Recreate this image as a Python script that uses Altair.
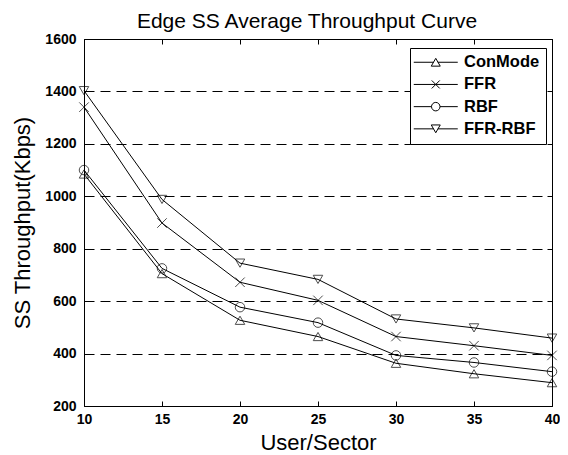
import altair as alt
import pandas as pd

users = [10, 15, 20, 25, 30, 35, 40]
series_names = ["ConMode", "FFR", "RBF", "FFR-RBF"]
conmode = [1085, 705, 527, 465, 363, 323, 289]
ffr = [1340, 898, 672, 603, 465, 430, 393]
rbf = [1100, 725, 577, 518, 393, 366, 331]
ffr_rbf = [1403, 988, 745, 683, 532, 498, 459]

x_ticks = [10, 15, 20, 25, 30, 35, 40]
y_ticks = [200, 400, 600, 800, 1000, 1200, 1400, 1600]

rows = []
for name, vals in zip(series_names, [conmode, ffr, rbf, ffr_rbf]):
    for u, v in zip(users, vals):
        rows.append({"users": u, "throughput": v, "series": name})
df = pd.DataFrame(rows)

FONT = "Liberation Sans"

marker_shapes = ["triangle-up", "M-1,-1L1,1M1,-1L-1,1", "circle", "triangle-down"]
legend_shapes = [
    "M-4.4,0L-0.42,0M0.42,0L4.4,0M0,-0.78L0.9,0.78L-0.9,0.78Z",
    "M-4.4,0L4.4,0M-0.8,-0.8L0.8,0.8M0.8,-0.8L-0.8,0.8",
    "M-4.4,0L-0.85,0M0.85,0L4.4,0M0.85,0A0.85,0.85,0,1,1,-0.85,0A0.85,0.85,0,1,1,0.85,0",
    "M-4.4,0L-0.42,0M0.42,0L4.4,0M0,0.78L0.9,-0.78L-0.9,-0.78Z",
]

xscale = alt.Scale(domain=[10, 40], nice=False)
yscale = alt.Scale(domain=[200, 1600], nice=False, zero=False)

base = alt.Chart(df)

lines = base.mark_line(color="black", strokeWidth=1).encode(
    x=alt.X("users:Q", scale=xscale,
            axis=alt.Axis(values=x_ticks, title="User/Sector", orient="bottom", format="d",
                          grid=False, domain=False, tickSize=5, offset=-5, labelFlush=False,
                          tickColor="black", labelPadding=6, titlePadding=6)),
    y=alt.Y("throughput:Q", scale=yscale,
            axis=alt.Axis(values=y_ticks, title="SS Throughput(Kbps)", orient="left", format="d",
                          grid=True, gridColor="black", gridDash=[10, 6], gridOpacity=1,
                          gridWidth=1, domain=False, tickSize=5, offset=-5, labelFlush=False,
                          tickColor="black", labelPadding=8, titlePadding=10)),
    detail="series:N",
)

points = base.mark_point(color="black", filled=False, strokeWidth=1, size=90).encode(
    x=alt.X("users:Q", scale=xscale,
            axis=alt.Axis(values=x_ticks, title=None, orient="top", labels=False,
                          grid=False, domain=False, tickSize=5, offset=-5, tickColor="black")),
    y=alt.Y("throughput:Q", scale=yscale,
            axis=alt.Axis(values=y_ticks, title=None, orient="right", labels=False,
                          grid=False, domain=False, tickSize=5, offset=-5, tickColor="black")),
    shape=alt.Shape("series:N", scale=alt.Scale(domain=series_names, range=marker_shapes),
                    legend=None),
)

legend_layer = base.mark_point(color="black", filled=False, strokeWidth=1, opacity=0).encode(
    x=alt.X("users:Q", scale=xscale, axis=None),
    y=alt.Y("throughput:Q", scale=yscale, axis=None),
    shape=alt.Shape("series:N", scale=alt.Scale(domain=series_names, range=legend_shapes),
                    legend=alt.Legend(title=None, orient="none", legendX=326, legendY=9,
                                      strokeColor="black", fillColor="white", padding=6,
                                      rowPadding=5.2, symbolSize=100, symbolOffset=11.5,
                                      labelOffset=20, symbolOpacity=1,
                                      symbolStrokeColor="black", symbolStrokeWidth=1,
                                      labelFont=FONT, labelFontSize=16.5,
                                      labelFontWeight="bold", labelColor="black")),
)

chart = alt.layer(lines, points, legend_layer).resolve_scale(
    shape="independent"
).resolve_axis(
    x="independent", y="independent"
).resolve_legend(
    shape="independent"
).properties(
    width=468,
    height=367,
    background="white",
    title=alt.TitleParams("Edge SS Average Throughput Curve", font=FONT, fontSize=21,
                          fontWeight="normal", color="black", offset=0, dx=-11,
                          anchor="middle"),
    autosize=alt.AutoSizeParams(type="none"),
    padding={"left": 76, "top": 31, "right": 8, "bottom": 48},
).configure_view(
    stroke="black", strokeWidth=1
).configure_axis(
    labelFont=FONT, labelFontSize=14, labelFontWeight="bold", labelColor="black",
    titleFont=FONT, titleFontSize=22, titleFontWeight="normal", titleColor="black",
)

chart.save("out.html", embed_options={"renderer": "svg", "actions": False})
